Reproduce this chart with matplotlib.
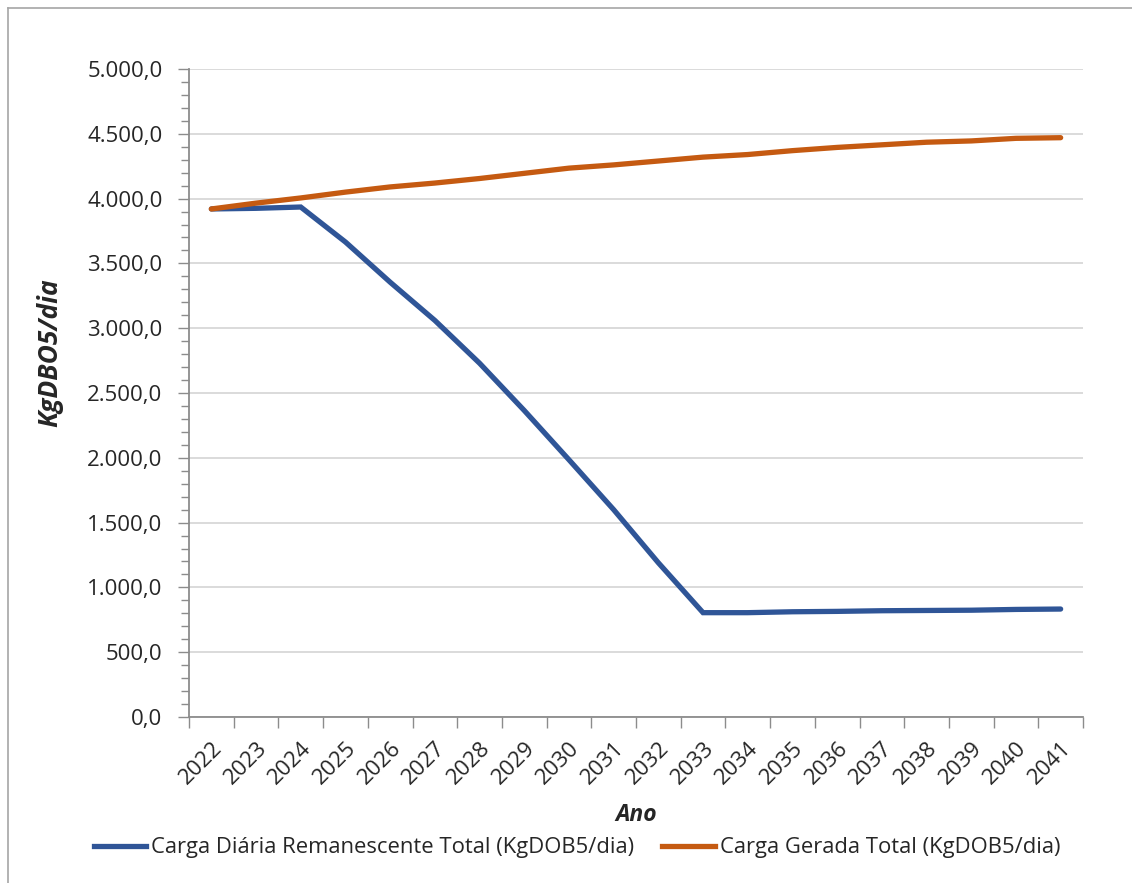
"""Carga de DBO5 gerada e remanescente, 2022-2041."""

import matplotlib
matplotlib.use("Agg")
import matplotlib.pyplot as plt
from matplotlib.lines import Line2D
from matplotlib.ticker import FuncFormatter, MultipleLocator, FixedLocator

anos = [str(a) for a in range(2022, 2042)]
carga_remanescente = [
    3920, 3925, 3935, 3665, 3355, 3060, 2730, 2365, 1985, 1600,
    1190, 805, 805, 812, 815, 820, 822, 824, 830, 833,
]
carga_gerada = [
    3920, 3965, 4005, 4050, 4090, 4120, 4155, 4195, 4235, 4260,
    4290, 4320, 4340, 4370, 4395, 4415, 4435, 4445, 4465, 4470,
]

BLUE = "#2F5597"
ORANGE = "#C55A11"
INK = "#262626"
AXIS = "#8c8c8c"
GRID = "#d4d4d4"

plt.rcParams.update({"font.family": ["Open Sans", "DejaVu Sans"]})

W, H = 1132, 883
fig = plt.figure(figsize=(W / 100, H / 100), dpi=100, facecolor="white")
ax = fig.add_axes([189 / W, (H - 717) / H, (1083 - 189) / W, (717 - 69) / H])

x = list(range(len(anos)))
ax.plot(x, carga_remanescente, color=BLUE, linewidth=3.8, solid_capstyle="round",
        solid_joinstyle="miter", zorder=3)
ax.plot(x, carga_gerada, color=ORANGE, linewidth=3.8, solid_capstyle="round",
        solid_joinstyle="miter", zorder=3)

ax.set_xlim(-0.5, len(anos) - 0.5)
ax.set_ylim(0, 5000)

ax.yaxis.set_major_locator(MultipleLocator(500))
ax.yaxis.set_minor_locator(MultipleLocator(100))
fmt = lambda v, _: f"{v:,.1f}".replace(",", "X").replace(".", ",").replace("X", ".")
ax.yaxis.set_major_formatter(FuncFormatter(fmt))
ax.tick_params(axis="y", which="major", length=8, width=1, color=AXIS,
               labelsize=16, labelcolor=INK, pad=11)
ax.tick_params(axis="y", which="minor", length=6, width=1, color=AXIS)

ax.xaxis.set_major_locator(FixedLocator(x))
ax.set_xticklabels(anos, rotation=45, ha="right", va="top", rotation_mode="anchor")
ax.xaxis.set_minor_locator(FixedLocator([i - 0.5 for i in range(len(anos) + 1)]))
ax.tick_params(axis="x", which="major", length=0, labelsize=16, labelcolor=INK, pad=15)
ax.tick_params(axis="x", which="minor", length=8, width=1, color=AXIS)

ax.grid(axis="y", which="major", color=GRID, linewidth=1.2)
ax.set_axisbelow(True)
ax.spines[["top", "right"]].set_visible(False)
ax.spines[["left", "bottom"]].set_color(AXIS)
ax.spines[["left", "bottom"]].set_linewidth(1.3)

fig.text(50 / W, 1 - 353 / H, "KgDBO5/dia", rotation=90, ha="center", va="center",
         fontsize=19, fontweight="bold", fontstyle="italic", color=INK)
fig.text(636 / W, 1 - 815 / H, "Ano", ha="center", va="center",
         fontsize=16.5, fontweight="bold", fontstyle="italic", color=INK)

handles = [
    Line2D([], [], color=BLUE, linewidth=3.8),
    Line2D([], [], color=ORANGE, linewidth=3.8),
]
fig.legend(handles,
           ["Carga Diária Remanescente Total (KgDOB5/dia)", "Carga Gerada Total (KgDOB5/dia)"],
           loc="center", bbox_to_anchor=(577 / W, 1 - 848 / H), ncol=2, frameon=False,
           fontsize=15.8, handlelength=2.4, handletextpad=0.23, columnspacing=1.26,
           labelcolor=INK, borderpad=0, borderaxespad=0)

# moldura externa (apenas bordas esquerda e superior visíveis)
fig.add_artist(Line2D([8 / W, 8 / W], [0, 1 - 8 / H], color="#a6a6a6", linewidth=1.2,
                      transform=fig.transFigure))
fig.add_artist(Line2D([8 / W, 1], [1 - 8 / H, 1 - 8 / H], color="#a6a6a6", linewidth=1.2,
                      transform=fig.transFigure))

fig.savefig("out.png", dpi=100, facecolor="white")
